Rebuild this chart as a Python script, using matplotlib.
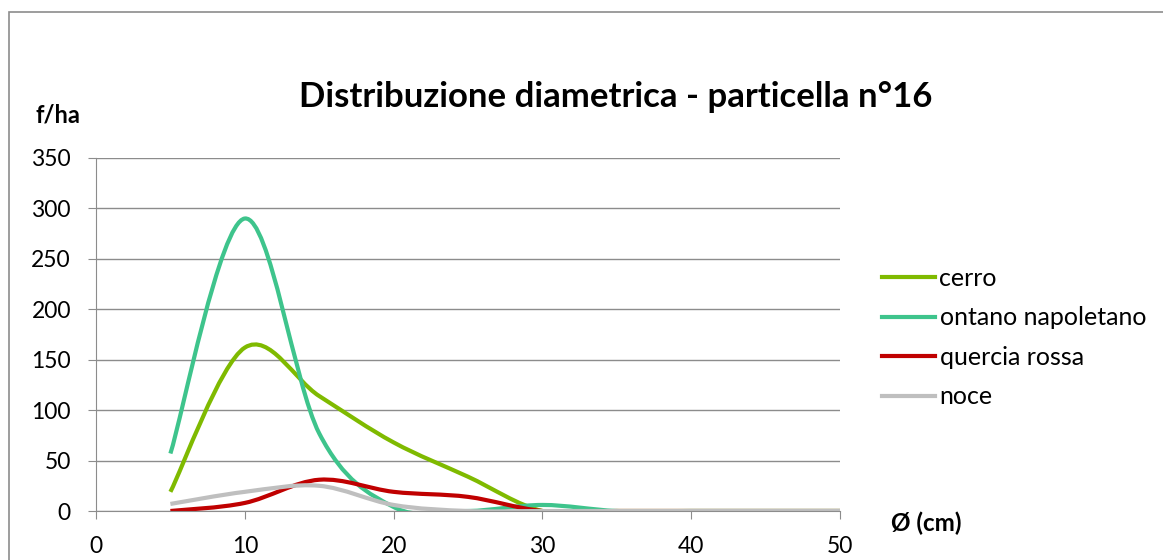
import matplotlib.pyplot as plt
import numpy as np
from matplotlib.path import Path
from matplotlib.patches import PathPatch, Rectangle
from matplotlib.lines import Line2D

plt.rcParams['font.family'] = ['Lato', 'DejaVu Sans']

diametri = [5, 10, 15, 20, 25, 30, 35, 40, 45, 50]
cerro = [19, 162, 114, 68, 34, 0, 0, 0, 0, 0]
ontano = [57, 290, 77, 4, 0, 6, 0, 0, 0, 0]
quercia = [0, 8, 31, 19, 14, 0, 0, 0, 0, 0]
noce = [7, 19, 25, 6, 0, 0, 0, 0, 0, 0]

series = [
    ('cerro', cerro, '#7FBA00'),
    ('ontano napoletano', ontano, '#3EC48C'),
    ('quercia rossa', quercia, '#C00000'),
    ('noce', noce, '#BFBFBF'),
]
grid_col = '#8C8C8C'


def smooth_path(xs, ys):
    # Excel-like smoothed line as cubic bezier segments through the data points
    pts = np.column_stack([xs, ys]).astype(float)
    ext = np.vstack([pts[0], pts, pts[-1]])
    verts = [pts[0]]
    codes = [Path.MOVETO]
    for i in range(len(pts) - 1):
        p0, p1, p2, p3 = ext[i], ext[i + 1], ext[i + 2], ext[i + 3]
        verts += [p1 + (p2 - p0) / 6, p2 - (p3 - p1) / 6, p2]
        codes += [Path.CURVE4] * 3
    return Path(verts, codes)


fig = plt.figure(figsize=(11.63, 5.6), dpi=100)
ax = fig.add_axes([96 / 1163, 1 - 511 / 560, (840 - 96) / 1163, (511 - 158) / 560])

handles = []
for name, vals, col in series:
    ax.add_patch(PathPatch(smooth_path(diametri, vals), fill=False, edgecolor=col,
                           lw=3, capstyle='butt', joinstyle='round'))
    handles.append(Line2D([], [], color=col, lw=3, label=name))

ax.set_xlim(0, 50)
ax.set_ylim(0, 350)
ax.set_xticks(range(0, 51, 10))
ax.set_yticks(range(0, 351, 50))
ax.yaxis.grid(True, color=grid_col, lw=1)
ax.set_axisbelow(True)
for s in ['top', 'right']:
    ax.spines[s].set_visible(False)
for s in ['left', 'bottom']:
    ax.spines[s].set_color(grid_col)
ax.tick_params(axis='both', direction='out', length=6, color=grid_col, labelsize=16.5,
               labelcolor='black')
ax.tick_params(axis='y', pad=12)
ax.tick_params(axis='x', pad=12)

fig.text(616 / 1163, 1 - 97 / 560, 'Distribuzione diametrica - particella n°16',
         ha='center', va='center', fontsize=25, fontweight='bold')
fig.text(58 / 1163, 1 - 115 / 560, 'f/ha', ha='center', va='center', fontsize=17,
         fontweight='bold')
fig.text(926 / 1163, 1 - 523 / 560, 'Ø (cm)', ha='center', va='center', fontsize=17.5,
         fontweight='bold')

fig.legend(handles=handles, loc='upper left', bbox_to_anchor=(872 / 1163, 1 - 257 / 560),
           frameon=False, fontsize=18, handlelength=2.1, handletextpad=0.2,
           labelspacing=0.66, borderaxespad=0)

fig.add_artist(Rectangle((9 / 1163, -0.1), 1.2, 1.1 - 12 / 560, transform=fig.transFigure,
                         fill=False, edgecolor='#8C8C8C', lw=1.2))

fig.savefig('out.png', dpi=100)
